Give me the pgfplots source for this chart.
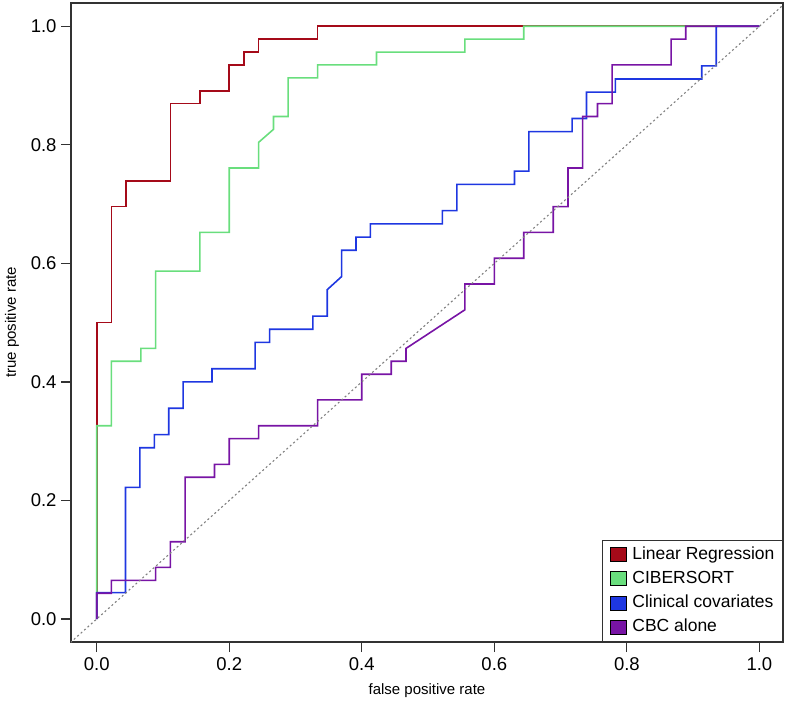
\documentclass[border=0pt]{standalone}
\usepackage{pgfplots}
\pgfplotsset{compat=1.18}
\usepackage{fontspec}
\setmainfont{Liberation Sans}
\definecolor{myred}{RGB}{165,10,25}
\definecolor{mygreen}{RGB}{105,222,125}
\definecolor{myblue}{RGB}{30,55,225}
\definecolor{mypurple}{RGB}{120,20,165}
\definecolor{framegray}{RGB}{50,50,50}
\pgfplotsset{
  sqlegend/.style={legend image code/.code={\path[draw=none,fill=none] (-4pt,0pt) -- (17.5pt,0pt);\draw[##1,line width=0.8pt,draw=black,fill] (0pt,-7pt) rectangle (16pt,7pt);}},
}
\begin{document}
\begin{tikzpicture}
\begin{axis}[
  scale only axis,
  width=712pt, height=639pt,
  xmin=-0.0388, xmax=1.0356, ymin=-0.0388, ymax=1.0393,
  xtick={0,0.2,0.4,0.6,0.8,1.0},
  ytick={0,0.2,0.4,0.6,0.8,1.0},
  tick pos=left,
  tick align=outside,
  major tick length=10pt,
  every tick/.style={framegray,line width=1.2pt},
  axis line style={framegray,line width=1.5pt},
  tick label style={font=\fontsize{18.5}{21}\selectfont,
    /pgf/number format/assume math mode=true,
    /pgf/number format/fixed, /pgf/number format/fixed zerofill, /pgf/number format/precision=1},
  xticklabel style={yshift=-2pt},
  yticklabel style={xshift=-1pt},
  xlabel={false positive rate},
  ylabel={true positive rate},
  every axis x label/.style={at={(axis description cs:0.5,0)}, yshift=-49pt, anchor=center, font=\fontsize{15}{18}\selectfont},
  every axis y label/.style={at={(axis description cs:0,0.5)}, xshift=-59pt, rotate=90, anchor=center, font=\fontsize{15}{18}\selectfont},
  legend style={at={(1,0)}, anchor=south east, draw=framegray, line width=1.2pt, fill=white,
    font=\fontsize{17.5}{20}\selectfont, inner xsep=4pt, inner ysep=4pt, row sep=3.8pt,
    nodes={inner xsep=4pt, inner ysep=2pt, text height=12.7pt, text depth=3.7pt}},
  legend cell align=left,
]
\addplot[myred, line width=1.6pt, sqlegend] coordinates {
(0,0) (0,0.5) (0.0222,0.5) (0.0222,0.6957) (0.0444,0.6957) (0.0444,0.7391) (0.1111,0.7391) (0.1111,0.8696) (0.1556,0.8696) (0.1556,0.8913) (0.2,0.8913) (0.2,0.9348) (0.2222,0.9348) (0.2222,0.9565) (0.2444,0.9565) (0.2444,0.9783) (0.3333,0.9783) (0.3333,1) (1,1)};
\addlegendentry{Linear Regression}
\addplot[mygreen, line width=1.6pt, sqlegend] coordinates {
(0,0) (0,0.3261) (0.0222,0.3261) (0.0222,0.4348) (0.0667,0.4348) (0.0667,0.4565) (0.0889,0.4565) (0.0889,0.5870) (0.1556,0.5870) (0.1556,0.6522) (0.2,0.6522) (0.2,0.7609) (0.2444,0.7609) (0.2444,0.8043) (0.2667,0.8261) (0.2667,0.8478) (0.2889,0.8478) (0.2889,0.9130) (0.3333,0.9130) (0.3333,0.9348) (0.4222,0.9348) (0.4222,0.9565) (0.5556,0.9565) (0.5556,0.9783) (0.6444,0.9783) (0.6444,1) (1,1)};
\addlegendentry{CIBERSORT}
\addplot[myblue, line width=1.6pt, sqlegend] coordinates {
(0,0) (0,0.0444) (0.0435,0.0444) (0.0435,0.2222) (0.0652,0.2222) (0.0652,0.2889) (0.0870,0.2889) (0.0870,0.3111) (0.1087,0.3111) (0.1087,0.3556) (0.1304,0.3556) (0.1304,0.4) (0.1739,0.4) (0.1739,0.4222) (0.2391,0.4222) (0.2391,0.4667) (0.2609,0.4667) (0.2609,0.4889) (0.3261,0.4889) (0.3261,0.5111) (0.3478,0.5111) (0.3478,0.5556) (0.3696,0.5778) (0.3696,0.6222) (0.3913,0.6222) (0.3913,0.6444) (0.4130,0.6444) (0.4130,0.6667) (0.5217,0.6667) (0.5217,0.6889) (0.5435,0.6889) (0.5435,0.7333) (0.6304,0.7333) (0.6304,0.7556) (0.6522,0.7556) (0.6522,0.8222) (0.7174,0.8222) (0.7174,0.8444) (0.7391,0.8444) (0.7391,0.8889) (0.7826,0.8889) (0.7826,0.9111) (0.9130,0.9111) (0.9130,0.9333) (0.9348,0.9333) (0.9348,1) (1,1)};
\addlegendentry{Clinical covariates}
\addplot[mypurple, line width=1.6pt, sqlegend] coordinates {
(0,0) (0,0.0435) (0.0222,0.0435) (0.0222,0.0652) (0.0889,0.0652) (0.0889,0.0870) (0.1111,0.0870) (0.1111,0.1304) (0.1333,0.1304) (0.1333,0.2391) (0.1778,0.2391) (0.1778,0.2609) (0.2,0.2609) (0.2,0.3043) (0.2444,0.3043) (0.2444,0.3261) (0.3333,0.3261) (0.3333,0.3696) (0.4,0.3696) (0.4,0.4130) (0.4444,0.4130) (0.4444,0.4348) (0.4667,0.4348) (0.4667,0.4565) (0.5556,0.5217) (0.5556,0.5652) (0.6,0.5652) (0.6,0.6087) (0.6444,0.6087) (0.6444,0.6522) (0.6889,0.6522) (0.6889,0.6957) (0.7111,0.6957) (0.7111,0.7609) (0.7333,0.7609) (0.7333,0.8478) (0.7556,0.8478) (0.7556,0.8696) (0.7778,0.8696) (0.7778,0.9348) (0.8667,0.9348) (0.8667,0.9783) (0.8889,0.9783) (0.8889,1) (1,1)};
\addlegendentry{CBC alone}
\addplot[gray, line width=1.1pt, dash pattern=on 2pt off 2.6pt, forget plot] coordinates {(-0.05,-0.05) (1.05,1.05)};
\end{axis}
\path ([xshift=-71pt,yshift=-63pt]current axis.south west) rectangle ([xshift=4pt,yshift=3pt]current axis.north east);
\end{tikzpicture}
\end{document}
